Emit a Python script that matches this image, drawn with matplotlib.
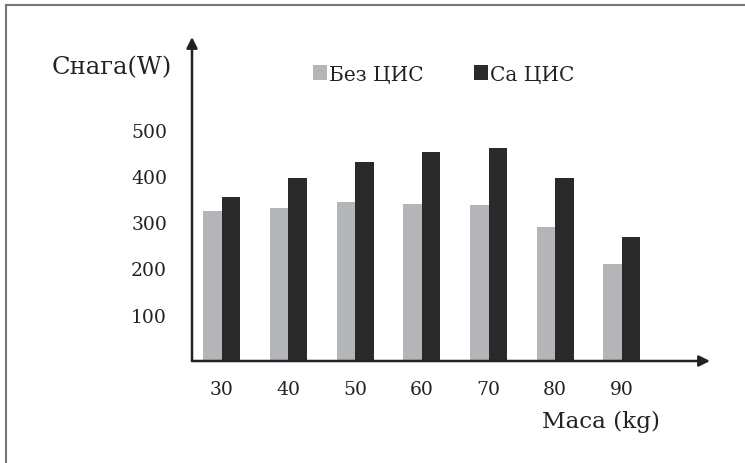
import matplotlib.pyplot as plt
import numpy as np

# Снага у зависности од масе, без и са ЦИС
masa = ["30", "40", "50", "60", "70", "80", "90"]
bez_cis = [325, 330, 344, 340, 337, 290, 210]
sa_cis = [354, 396, 430, 451, 461, 396, 268]
y_ticks = [100, 200, 300, 400, 500]

plt.rcParams['font.family'] = ['DejaVu Serif']

fig = plt.figure(figsize=(7.45, 4.64), dpi=100)
W, H = 745, 464
ax = fig.add_axes([192 / W, (H - 362) / H, (710 - 192) / W, (362 - 38) / H])

x = np.arange(len(masa))
sirina = 0.277
svetla = '#b4b5b8'
tamna = '#2b2a2b'
b1 = ax.bar(x - sirina / 2, bez_cis, sirina, color=svetla, label='Без ЦИС')
b2 = ax.bar(x + sirina / 2, sa_cis, sirina, color=tamna, label='Са ЦИС')

ax.set_xlim(-0.445, 7.32)
ax.set_ylim(0, 700)
for s in ax.spines.values():
    s.set_visible(False)

# осе са стрелицама
strelica = dict(arrowstyle='-|>', color='#222222', lw=1.8, mutation_scale=16,
                shrinkA=0, shrinkB=0)
ax.annotate('', xy=(0, 1.0), xytext=(0, 0), xycoords='axes fraction',
            arrowprops=strelica, annotation_clip=False)
ax.annotate('', xy=(1.0, 0), xytext=(0, 0), xycoords='axes fraction',
            arrowprops=strelica, annotation_clip=False)

ax.set_xticks(x)
ax.set_xticklabels(masa, fontsize=13.5, color='#222222')
ax.set_yticks(y_ticks)
ax.set_yticklabels([str(v) for v in y_ticks], fontsize=13.5, color='#222222')
ax.tick_params(axis='both', length=0)
ax.tick_params(axis='x', pad=14)
ax.tick_params(axis='y', pad=18)

fig.text(112 / W, 1 - 68 / H, 'Снага(W)', fontsize=17.5, ha='center', va='center',
         color='#222222')
fig.text(601 / W, 1 - 422 / H, 'Маса (kg)', fontsize=16.7, ha='center', va='center',
         color='#222222')

ax.legend(handles=[b1, b2], ncol=2, frameon=False, fontsize=14.5,
          handlelength=0.7, handleheight=0.7, handletextpad=0.1,
          columnspacing=2.5, loc='center', bbox_to_anchor=(444 / W, 1 - 75 / H),
          bbox_transform=fig.transFigure, labelcolor='#222222')

# оквир слике (горња и лева ивица)
fig.add_artist(plt.Line2D([6.5 / W, 1], [1 - 6 / H, 1 - 6 / H], color='#777777', lw=1.5,
                          transform=fig.transFigure))
fig.add_artist(plt.Line2D([6.5 / W, 6.5 / W], [0, 1 - 6 / H], color='#777777', lw=1.5,
                          transform=fig.transFigure))

fig.savefig('out.png', dpi=100)
